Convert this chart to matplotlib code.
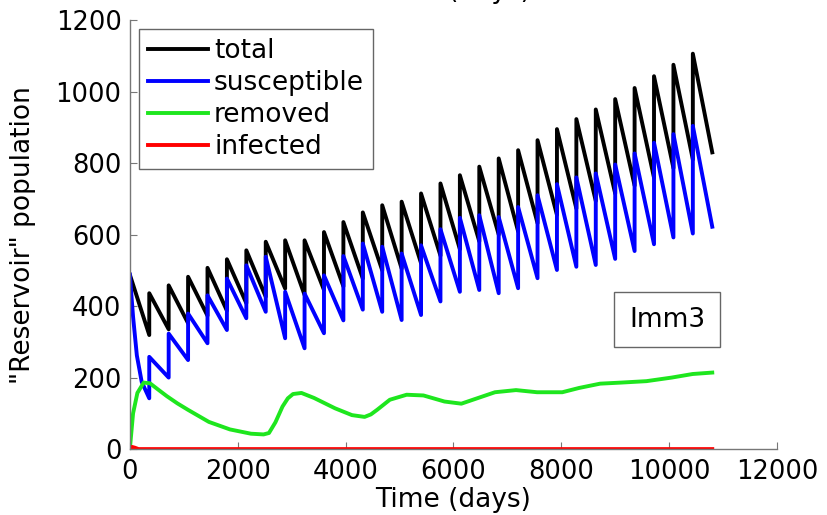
import numpy as np
import matplotlib.pyplot as plt

# yearly immigration pulses: one jump every 360 days
period = 360

# "total" population: value right after each jump, and just before the next one
total_peak = [488, 436, 458, 482, 507, 531, 556, 580, 584, 584,
              607, 635, 662, 682, 692, 715, 743, 766, 790, 813,
              836, 864, 895, 923, 950, 979, 1010, 1043, 1075, 1106]
total_trough = [319, 335, 352, 373, 387, 408, 426, 449, 431, 445,
                455, 477, 500, 505, 520, 541, 559, 581, 600, 609,
                632, 655, 673, 694, 715, 737, 759, 786, 810, 830]

# susceptible population, same layout
sus_peak = [488, 258, 323, 379, 430, 477, 514, 538, 440, 435,
            486, 540, 575, 566, 547, 570, 615, 647, 654, 649,
            677, 710, 741, 760, 771, 796, 827, 857, 881, 904]
sus_trough = [142, 200, 249, 296, 333, 366, 384, 310, 282, 324,
              360, 390, 384, 361, 375, 413, 440, 445, 436, 450,
              478, 501, 510, 515, 532, 554, 573, 592, 603, 622]
# the first year of the susceptible curve bends, extra points
sus_early_t = [60, 130, 220]
sus_early_v = [370, 262, 188]

# removed
rem_t = [0, 60, 140, 257, 374, 520, 686, 880, 1076, 1466, 1856, 2246, 2480,
         2580, 2700, 2831, 2930, 3026, 3182, 3416, 3806, 4119, 4353, 4470,
         4587, 4821, 5133, 5445, 5835, 6147, 6459, 6771, 7161, 7551, 8019,
         8331, 8721, 9111, 9579, 10047, 10437, 10800]
rem_v = [0, 100, 157, 186, 184, 167, 148, 128, 110, 76, 55, 43, 41,
         45, 75, 119, 142, 154, 157, 143, 114, 95, 90, 97,
         110, 138, 152, 150, 133, 127, 143, 159, 165, 159, 159,
         171, 183, 186, 190, 200, 210, 214]

# infected
inf_t = [0, 40, 90, 160, 10800]
inf_v = [0, 6, 4, 0, 0]


def sawtooth(peaks, troughs):
    xs, ys = [], []
    for k in range(len(peaks)):
        xs += [k * period, (k + 1) * period]
        ys += [peaks[k], troughs[k]]
    return xs, ys


tot_x, tot_y = sawtooth(total_peak, total_trough)
sus_x, sus_y = sawtooth(sus_peak, sus_trough)
sus_x = sus_x[:1] + sus_early_t + sus_x[1:]
sus_y = sus_y[:1] + sus_early_v + sus_y[1:]

plt.rcParams['font.family'] = ['DejaVu Sans']

fig = plt.figure(figsize=(8.27, 5.15), dpi=100)
ax = fig.add_axes([0.157, 0.128, 0.7825, 0.833])

lw = 2.8
ax.plot(tot_x, tot_y, color='black', linewidth=lw, label='total')
ax.plot(sus_x, sus_y, color='#0000ff', linewidth=lw, label='susceptible')
ax.plot(rem_t, rem_v, color='#1ee61e', linewidth=lw, label='removed')
ax.plot(inf_t, inf_v, color='#ff0000', linewidth=lw, label='infected')

ax.set_xlim(0, 12000)
ax.set_ylim(0, 1200)
ax.set_xticks(range(0, 12001, 2000))
ax.set_yticks(range(0, 1201, 200))

for s in ['top', 'right']:
    ax.spines[s].set_visible(False)
for s in ['left', 'bottom']:
    ax.spines[s].set_color('#777777')
    ax.spines[s].set_linewidth(1.0)
ax.tick_params(direction='in', length=5, color='#777777', labelsize=18.5)
ax.tick_params(axis='x', pad=7)
ax.tick_params(axis='y', pad=6)

ax.set_xlabel('Time (days)', fontsize=19)
ax.set_ylabel('"Reservoir" population', fontsize=19)
ax.xaxis.set_label_coords(0.5, -0.088)
ax.yaxis.set_label_coords(-0.145, 0.5)

leg = ax.legend(loc='upper left', bbox_to_anchor=(0.014, 0.979),
                borderaxespad=0, fontsize=19, handlelength=2.27,
                handletextpad=0.23, labelspacing=0.22, borderpad=0.35,
                fancybox=False, framealpha=1)
leg.get_frame().set_edgecolor('#666666')
leg.get_frame().set_linewidth(1.0)

ax.text(0.830, 0.301, 'Imm3', transform=ax.transAxes, fontsize=19,
        ha='center', va='center',
        bbox=dict(boxstyle='square,pad=0.55', facecolor='white',
                  edgecolor='#666666', linewidth=1.0))

# bottom edge of the x label of the panel above, cut by the figure edge
fig.text(0.548, 1.003, 'Time (days)', fontsize=19, ha='center', va='baseline')

fig.savefig('out.png', dpi=100)
